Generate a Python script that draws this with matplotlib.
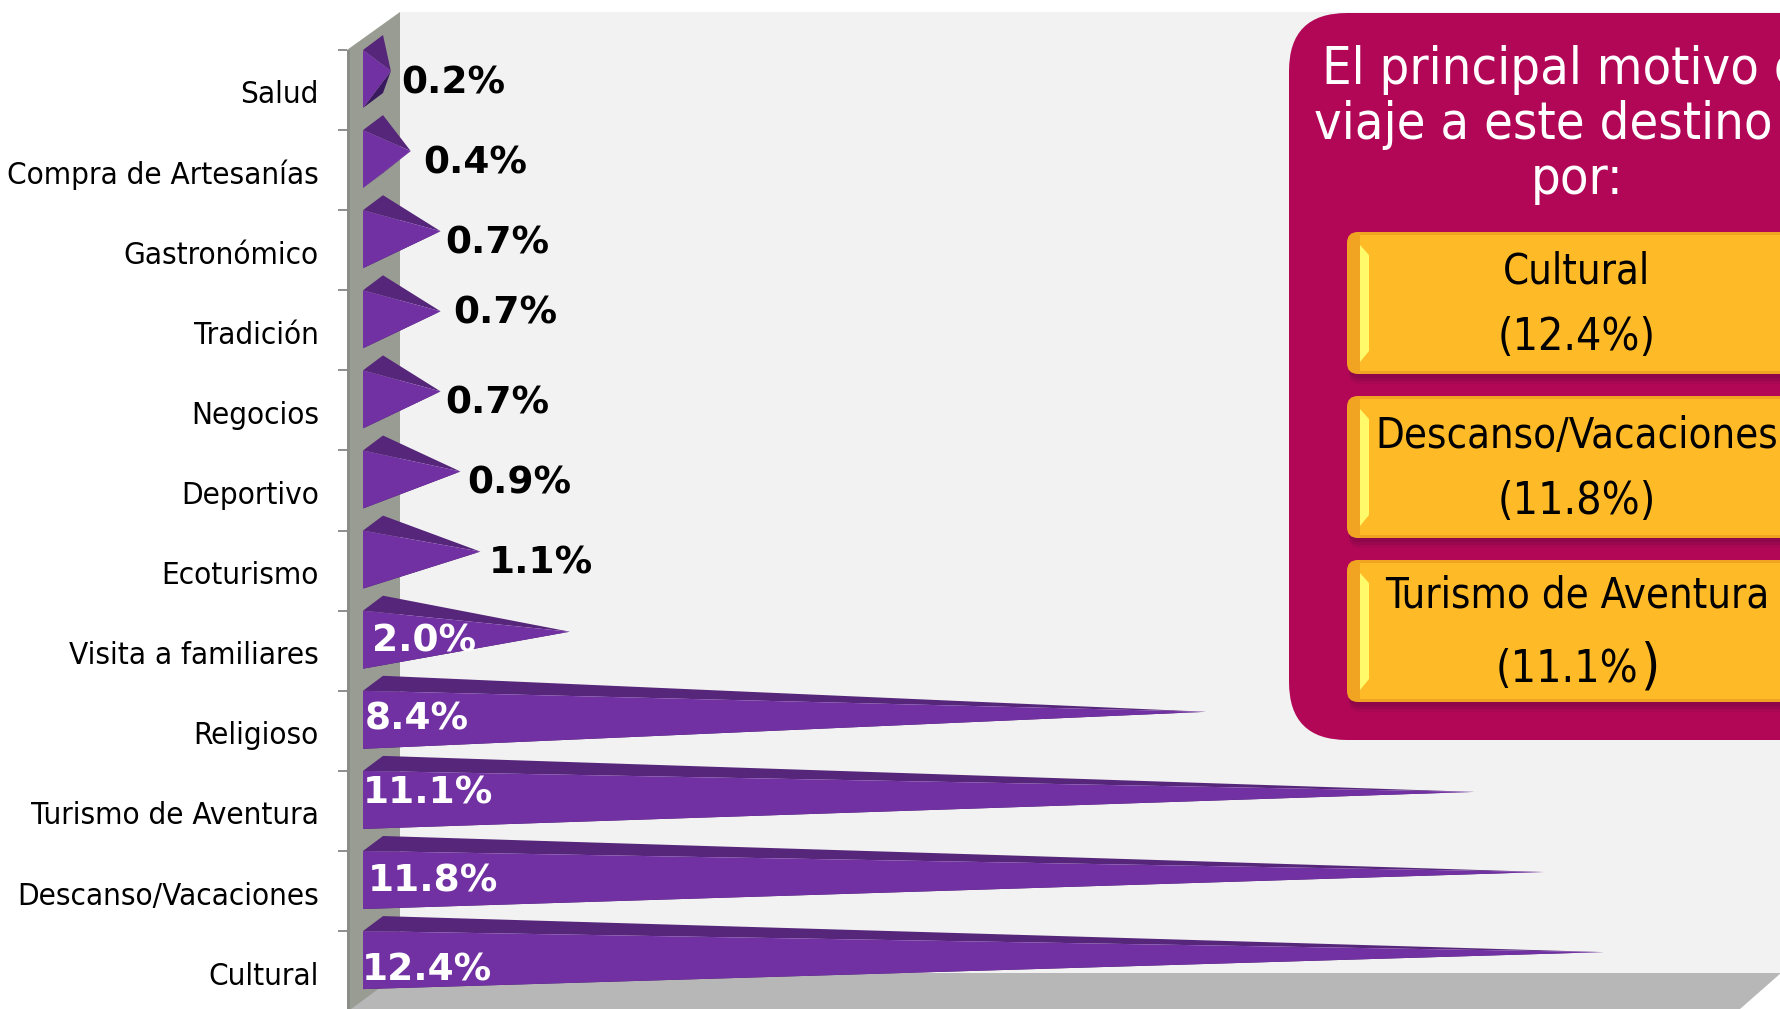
import matplotlib
matplotlib.use("Agg")
import matplotlib.pyplot as plt
from matplotlib.patches import FancyBboxPatch, Polygon, Rectangle

# data, top to bottom as drawn
categories = ["Salud", "Compra de Artesanías", "Gastronómico", "Tradición", "Negocios",
              "Deportivo", "Ecoturismo", "Visita a familiares", "Religioso",
              "Turismo de Aventura", "Descanso/Vacaciones", "Cultural"]
values = [0.2, 0.4, 0.7, 0.7, 0.7, 0.9, 1.1, 2.0, 8.4, 11.1, 11.8, 12.4]

# hand placed value labels (left edge and centre in pixels)
label_left = [401, 423, 445, 453, 445, 467, 489, 372, 365, 363, 368, 362]
label_mid = [84, 164, 244, 314, 403, 483, 563, 642, 719, 793, 881, 970]
label_white = [False] * 7 + [True] * 5

panel_title = "El principal motivo de\nviaje a este destino es\npor:"
box_names = ["Cultural", "Descanso/Vacaciones", "Turismo de Aventura"]
box_values = ["(12.4%)", "(11.8%)", "(11.1%"]

W, H = 1781, 1009
X0, PX_PER_UNIT = 363, 99.4
Y0, PITCH = 92, 80.1
AX_LEFT = 347

BODY = {"family": "DejaVu Sans", "stretch": "condensed"}

fig = plt.figure(figsize=(W / 100, H / 100), dpi=100, facecolor="white")

# background in plain pixel coordinates
bg = fig.add_axes([0, 0, 1, 1])
bg.set_xlim(0, W)
bg.set_ylim(H, 0)
bg.axis("off")

bg.add_patch(Rectangle((400, 12), W - 400, 961, fc="#F2F2F2", ec="none"))
bg.add_patch(Polygon([(400, 973), (W, 973), (1740, H), (347, H)], fc="#B7B7B7", ec="none"))
bg.add_patch(Polygon([(347, 50), (400, 12), (400, 973), (347, 1012)], fc="#999C92", ec="none"))
bg.add_patch(Rectangle((347, 50), 3, H - 50, fc="#8B8D88", ec="none"))

# magenta panel, runs off the right edge
bg.add_patch(FancyBboxPatch((1289 + 58, 13 + 58), 700, 727 - 116, boxstyle="round,pad=58",
                            fc="#B20757", ec="none"))
bg.text(1577, 125, panel_title, color="white", fontsize=37.5, ha="center", va="center",
        linespacing=1.13, **BODY)

box_tops = [232, 396, 560]
box_h = 142
name_y = [272, 436, 595]
value_y = [337, 502, 669]
value_x = [1577, 1577, 1567]
for i in range(3):
    top = box_tops[i]
    for k, a in zip([10, 7, 4], [0.12, 0.16, 0.2]):
        bg.add_patch(FancyBboxPatch((1349, top + 4), 600, box_h - 4 + k, boxstyle="round,pad=0,rounding_size=10",
                                    fc="#5A0A3A", ec="none", alpha=a))
    bg.add_patch(FancyBboxPatch((1347, top), 600, box_h, boxstyle="round,pad=0,rounding_size=11",
                                fc="#F0A422", ec="none"))
    bg.add_patch(Rectangle((1360, top + 3), 600, box_h - 6, fc="#FFBB27", ec="none"))
    bg.add_patch(Polygon([(1360, top + 13), (1369, top + 23), (1369, top + box_h - 23), (1360, top + box_h - 12)],
                         fc="#FFFA6A", ec="none"))
    bg.text(1577, name_y[i], box_names[i], color="black", fontsize=30, ha="center", va="center", **BODY)
    bg.text(value_x[i], value_y[i], box_values[i], color="black", fontsize=32, ha="center", va="center", **BODY)
# the last bracket is bigger in the original
bg.text(1650, 667, ")", color="black", fontsize=40, ha="center", va="center", **BODY)

# chart axes: x in percent, y in category position
ax = fig.add_axes([AX_LEFT / W, 0, 1 - AX_LEFT / W, 1])
ax.patch.set_alpha(0)
ax.set_xlim((AX_LEFT - X0) / PX_PER_UNIT, (W - X0) / PX_PER_UNIT)
ax.set_ylim((H - Y0) / PITCH, -Y0 / PITCH)
for s in ax.spines.values():
    s.set_visible(False)
ax.xaxis.set_visible(False)

ax.set_yticks(range(len(categories)))
ax.set_yticklabels(categories, fontsize=22.5, color="black", **BODY)
ax.tick_params(axis="y", which="major", length=0, pad=20.2)
ax.set_yticks([i - 42 / PITCH for i in range(len(categories))], minor=True)
ax.tick_params(axis="y", which="minor", length=6.5, width=1.4, color="#8E8E8E")


def dx(px):
    return px / PX_PER_UNIT


def dy(px):
    return px / PITCH


for i, v in enumerate(values):
    tip = v + dx(8)
    top = i - dy(42)
    bottom = i + dy(16)
    tip_y = i - dy(21)
    back = dx(20)
    ax.fill([0, back, tip], [bottom, bottom - dy(15), tip_y], color="#3A1A5E", lw=0, zorder=2)
    ax.fill([0, back, tip], [top, top - dy(15), tip_y], color="#55267A", lw=0, zorder=2)
    ax.fill([0, 0, tip], [top, bottom, tip_y], color="#7231A3", lw=0, zorder=3)
    ax.text(dx(label_left[i] - X0), dy(label_mid[i] - Y0), f"{v:.1f}%", fontsize=27, fontweight="bold",
            color="white" if label_white[i] else "black", ha="left", va="center", zorder=4)

fig.savefig("out.png", dpi=100)
